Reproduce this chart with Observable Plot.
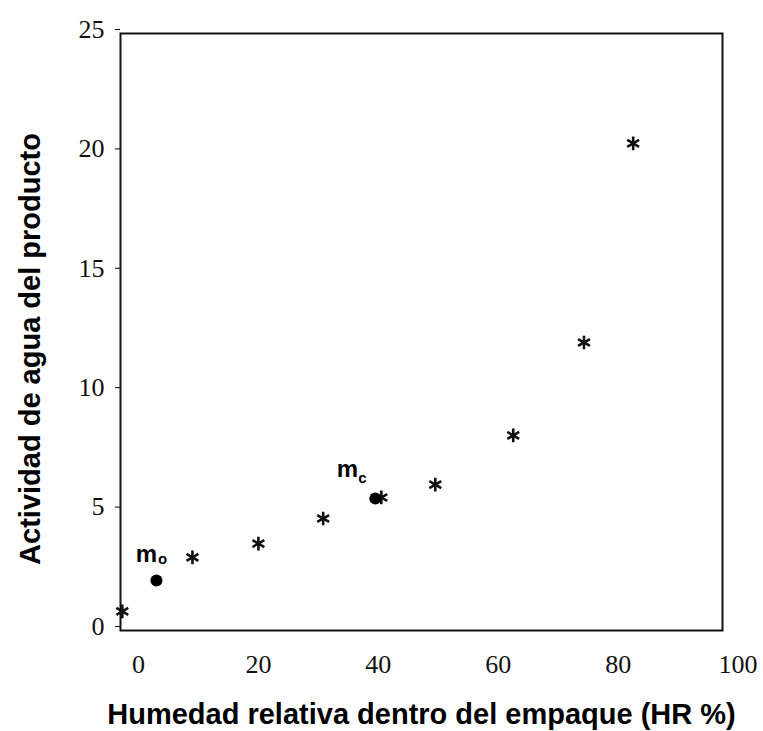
<!DOCTYPE html>
<html>
<head>
<meta charset="utf-8">
<script src="https://cdn.jsdelivr.net/npm/d3@7"></script>
<script src="https://cdn.jsdelivr.net/npm/@observablehq/plot@0.6"></script>
<style>
  body { margin: 0; background: #fff; }
  #chart svg { display: block; background: #fff; }
</style>
</head>
<body>
<div id="chart"></div>
<script>
// Data
const hr = [-2.7, 9, 20, 30.8, 40.5, 49.5, 62.5, 74.3, 82.5];
const aw = [0.8, 3.06, 3.64, 4.69, 5.57, 6.11, 8.17, 12.06, 20.4];

const markX = [3.0, 39.5];
const markY = [2.09, 5.53];
const markMain = ["m", "m"];
const markSub = ["o", "c"];

const xTicks = [0, 20, 40, 60, 80, 100];
const yTicks = [0, 5, 10, 15, 20, 25];

const xTitle = "Humedad relativa dentro del empaque (HR %)";
const yTitle = "Actividad de agua del producto";

const stars = hr.map((x, i) => ({x, y: aw[i]}));
const marks = markX.map((x, i) => ({x, y: markY[i], main: markMain[i], sub: markSub[i]}));

const labelOffsets = [
  {dx: -10, dy: -26, sdx: 6, sdy: -21},
  {dx: -28, dy: -29, sdx: -13, sdy: -20}
];

const sans = "Liberation Sans, Arial, sans-serif";
const serif = "Liberation Serif, Times New Roman, serif";

const annot = [];
marks.forEach((m, i) => {
  const o = labelOffsets[i];
  annot.push(Plot.text([m], {x: "x", y: "y", text: "main", dx: o.dx, dy: o.dy,
    fontSize: 24, fontWeight: "bold", fontFamily: sans, fill: "#000"}));
  annot.push(Plot.text([m], {x: "x", y: "y", text: "sub", dx: o.sdx, dy: o.sdy,
    fontSize: 15, fontWeight: "bold", fontFamily: sans, fill: "#000"}));
});

const chart = Plot.plot({
  width: 763,
  height: 731,
  marginTop: 33,
  marginBottom: 101,
  marginLeft: 120,
  marginRight: 41,
  style: {background: "#fff", overflow: "visible"},
  x: {domain: [-3, 97.4]},
  y: {domain: [0, 25]},
  marks: [
    Plot.axisX({ticks: xTicks, tickSize: 0, tickPadding: 24, label: null,
      fontSize: 26, fontFamily: serif, fill: "#111", tickFormat: d => String(d)}),
    Plot.axisY({ticks: yTicks, tickSize: 5, tickPadding: 11, dy: -4, label: null,
      fontSize: 26, fontFamily: serif, fill: "#111", tickFormat: d => String(d)}),
    Plot.frame({stroke: "#111", strokeWidth: 2}),
    Plot.dot(stars, {x: "x", y: "y", symbol: "asterisk", r: 6.5, stroke: "#111", strokeWidth: 2.6}),
    Plot.dot(marks, {x: "x", y: "y", r: 6, fill: "#000", stroke: "none"}),
    ...annot,
    Plot.text([yTitle], {frameAnchor: "left", rotate: -90, dx: -90, dy: 17, text: d => d,
      textAnchor: "middle", lineAnchor: "middle",
      fontSize: 29, fontWeight: "bold", fontFamily: sans, fill: "#000"}),
    Plot.text([xTitle], {frameAnchor: "bottom", dy: 84, text: d => d,
      textAnchor: "middle", lineAnchor: "middle",
      fontSize: 29, fontWeight: "bold", fontFamily: sans, fill: "#000"})
  ]
});
document.getElementById("chart").appendChild(chart);
</script>
</body>
</html>
